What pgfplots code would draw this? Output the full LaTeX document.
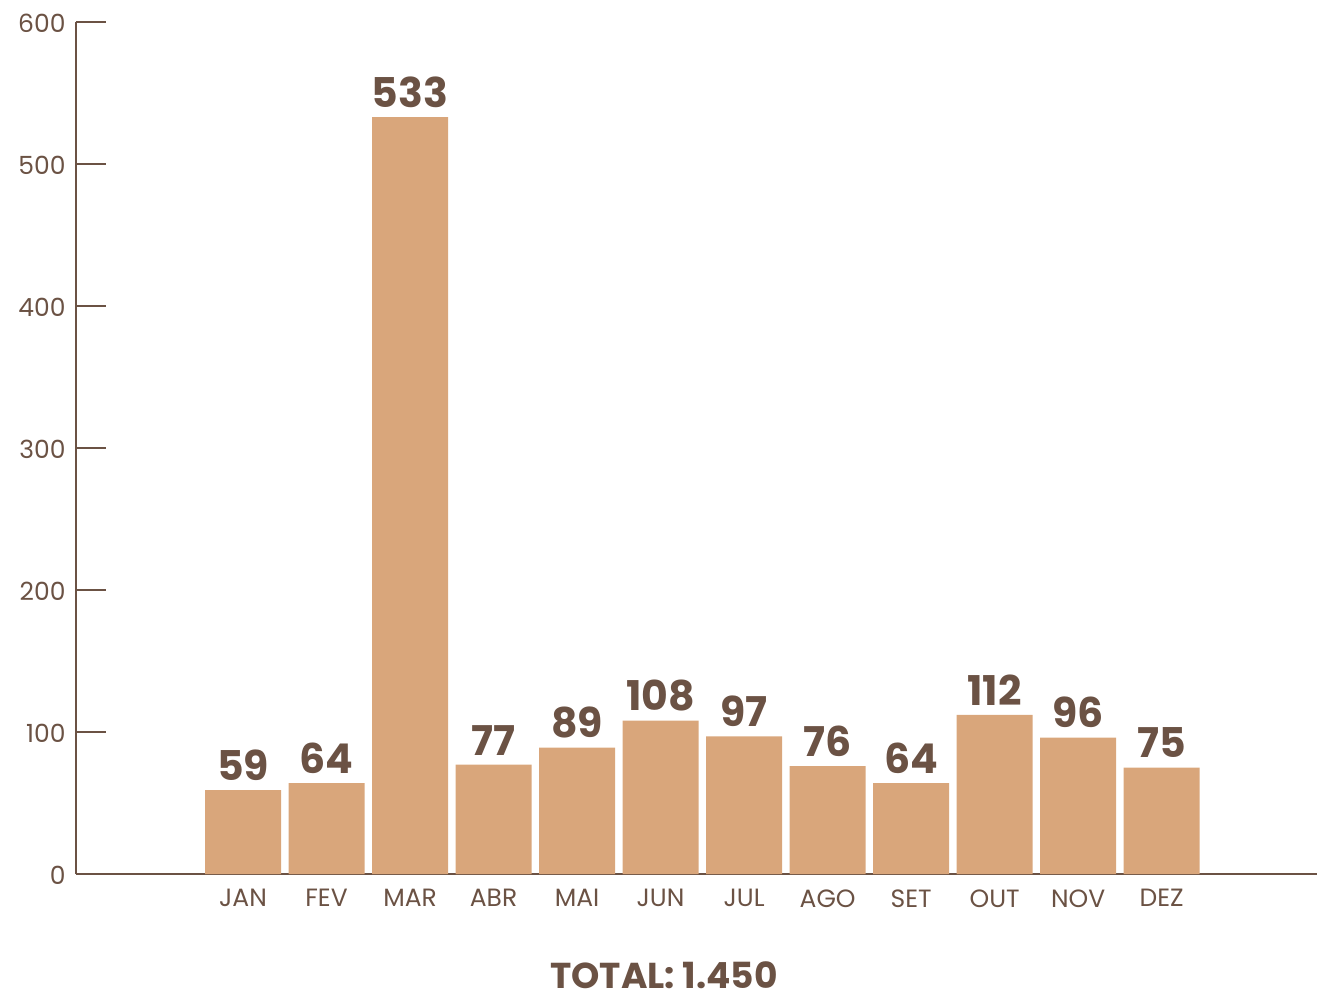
\documentclass[border=0pt]{standalone}
\usepackage{fontspec}
\setmainfont{Poppins}
\usepackage{pgfplots}
\pgfplotsset{compat=1.18}
\definecolor{barfill}{HTML}{D9A67B}
\definecolor{ink}{HTML}{6B5244}
\begin{document}
\begin{tikzpicture}
% fixed page frame around the plot
\path[use as bounding box] (-76pt,-128pt) rectangle (1241pt,874pt);
\begin{axis}[
  at={(0pt,0pt)}, anchor=south west,
  scale only axis, width=1241pt, height=852pt,
  xmin=-1, xmax=13.86, ymin=0, ymax=600,
  enlargelimits=false, clip=false,
  axis x line=bottom, axis y line=left,
  axis line style={ink, line width=2.6pt, -},
  ytick={0,100,...,600},
  xtick={1,...,12},
  xticklabels={JAN,FEV,MAR,ABR,MAI,JUN,JUL,AGO,SET,OUT,NOV,DEZ},
  tick align=inside,
  major tick length=30pt,
  ytick style={ink, line width=2.6pt},
  xtick style={draw=none},
  /pgf/number format/assume math mode=true,
  yticklabel style={font=\fontsize{25}{25}\selectfont, text=ink, anchor=east, xshift=-7pt, yshift=-1pt},
  xticklabel style={font=\fontsize{25}{25}\selectfont, text=ink, yshift=-12pt},
  nodes near coords,
  nodes near coords style={font=\bfseries\fontsize{41}{41}\selectfont, text=ink, yshift=6pt},
]
\addplot[ybar, bar width=76pt, fill=barfill, draw=none] coordinates {
  (1,59) (2,64) (3,533) (4,77) (5,89) (6,108)
  (7,97) (8,76) (9,64) (10,112) (11,96) (12,75)
};
\end{axis}
\node[font=\bfseries\fontsize{36}{36}\selectfont, text=ink, anchor=base, inner sep=0pt] at (588pt,-114pt) {TOTAL: 1.450};
\end{tikzpicture}
\end{document}
